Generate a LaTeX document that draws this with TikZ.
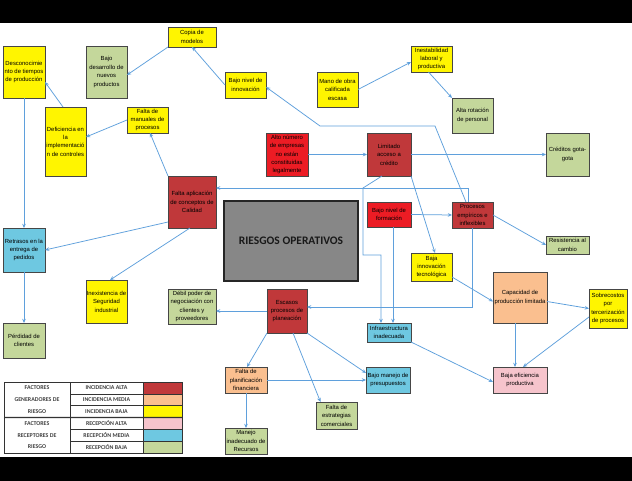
\documentclass[tikz,border=0pt]{standalone}
\usepackage{fontspec}
\setmainfont{Liberation Sans}
\newfontfamily\carl{Carlito}
\usetikzlibrary{arrows.meta}
\definecolor{cdred}{RGB}{192,56,58}
\definecolor{cbred}{RGB}{236,28,36}
\definecolor{cpeach}{RGB}{250,191,143}
\definecolor{cyel}{RGB}{255,245,0}
\definecolor{cpink}{RGB}{246,196,204}
\definecolor{cblue}{RGB}{110,200,225}
\definecolor{cgreen}{RGB}{196,215,155}
\definecolor{cgray}{RGB}{135,135,135}
\definecolor{carrow}{RGB}{95,160,220}
\definecolor{cbord}{RGB}{70,70,70}
\tikzset{
 bx/.style={draw=cbord, line width=0.7pt, inner sep=0.3pt, outer sep=0pt, align=center, font=\fontsize{5.9}{8.4}\selectfont, text=black},
 con/.style={draw=carrow, line width=0.75pt, -{Stealth[length=4.2pt,width=3.6pt]}},
 lg/.style={draw=black!80, line width=0.5pt, inner sep=0pt, outer sep=0pt, align=center, font=\carl\bfseries\fontsize{5.9}{11.8}\selectfont, text=black!75},
}
\begin{document}
\begin{tikzpicture}[x=1pt,y=-1pt]
\useasboundingbox (0,0) rectangle (632,481);
\fill[white] (0,0) rectangle (632,481);
\fill[black] (0,0) rectangle (632,23);
\fill[black] (0,457) rectangle (632,481);

% nodes
\node[bx,fill=cyel,minimum width=42pt,minimum height=52pt] (desc) at (24,72) {Desconocimie\\nto de tiempos\\de producción};
\node[bx,fill=cgreen,minimum width=41pt,minimum height=52pt] (bdes) at (106.5,72) {Bajo\\desarrollo de\\nuevos\\productos};
\node[bx,fill=cyel,minimum width=48pt,minimum height=20pt] (copia) at (192,37) {Copia de\\modelos};
\node[bx,fill=cyel,minimum width=41pt,minimum height=69pt] (defic) at (65.5,141.5) {Deficiencia en\\la\\implementació\\n de controles};
\node[bx,fill=cyel,minimum width=41pt,minimum height=26pt] (manual) at (147.5,120) {Falta de\\manuales de\\procesos};
\node[bx,fill=cyel,minimum width=41pt,minimum height=26pt] (binnov) at (245.5,85) {Bajo nivel de\\innovación};
\node[bx,fill=cyel,minimum width=41pt,minimum height=35pt] (mano) at (337.5,89.5) {Mano de obra\\calificada\\escasa};
\node[bx,fill=cyel,minimum width=41pt,minimum height=26pt] (inest) at (431.5,59) {Inestabilidad\\laboral y\\productiva};
\node[bx,fill=cgreen,minimum width=41pt,minimum height=35pt] (arot) at (472.5,115.5) {Alta rotación\\de personal};
\node[bx,fill=cgreen,minimum width=43pt,minimum height=43pt] (cred) at (567.5,154.5) {Créditos gota-\\gota};
\node[bx,fill=cbred,minimum width=42pt,minimum height=43pt] (alto) at (287,154.5) {Alto número\\de empresas\\no están\\constituidas\\legalmente};
\node[bx,fill=cdred,minimum width=44pt,minimum height=43pt] (limit) at (389,154.5) {Limitado\\acceso a\\crédito};
\node[bx,fill=cdred,minimum width=48pt,minimum height=52pt] (faltacal) at (192,202) {Falta aplicación\\de conceptos de\\Calidad};
\node[draw=black!85,line width=1.4pt,fill=cgray,minimum width=134pt,minimum height=80pt,inner sep=0pt,outer sep=0pt,text=black!90,font=\carl\bfseries\fontsize{11.5}{13}\selectfont] (riesgos) at (291,241) {RIESGOS OPERATIVOS};
\node[bx,fill=cbred,minimum width=44pt,minimum height=25pt] (bform) at (389,214.5) {Bajo nivel de\\formación};
\node[bx,fill=cdred,minimum width=41pt,minimum height=26pt] (proc) at (472.5,215) {Procesos\\empíricos e\\inflexibles};
\node[bx,fill=cgreen,minimum width=43pt,minimum height=18pt] (resis) at (567.5,245) {Resistencia al\\cambio};
\node[bx,fill=cblue,minimum width=42pt,minimum height=44pt] (retr) at (24,250) {Retrasos en la\\entrega de\\pedidos};
\node[bx,fill=cyel,minimum width=41pt,minimum height=28pt] (binnt) at (431.5,267) {Baja\\innovación\\tecnológica};
\node[bx,fill=cyel,minimum width=41pt,minimum height=43pt] (inex) at (106.5,301.5) {Inexistencia de\\Seguridad\\industrial};
\node[bx,fill=cgreen,minimum width=48pt,minimum height=35pt] (debil) at (192,306.5) {Débil poder de\\negociación con\\clientes y\\proveedores};
\node[bx,fill=cdred,minimum width=40pt,minimum height=44pt] (escasos) at (287,311) {Escasos\\procesos de\\planeación};
\node[bx,fill=cpeach,minimum width=54pt,minimum height=51pt] (capac) at (520,297.5) {Capacidad de\\producción limitada};
\node[bx,fill=cyel,minimum width=38pt,minimum height=39pt] (sobre) at (608,308.5) {Sobrecostos\\por\\tercerización\\de procesos};
\node[bx,fill=cblue,minimum width=44pt,minimum height=19pt] (infra) at (389,332.5) {Infraestructura\\inadecuada};
\node[bx,fill=cgreen,minimum width=42pt,minimum height=35pt] (perd) at (24,340.5) {Pérdidad de\\clientes};
\node[bx,fill=cpeach,minimum width=42pt,minimum height=26pt] (fplan) at (246,380) {Falta de\\planificación\\financiera};
\node[bx,fill=cblue,minimum width=44pt,minimum height=26pt] (bmanejo) at (388,380) {Bajo manejo de\\presupuestos};
\node[bx,fill=cgreen,minimum width=41pt,minimum height=27pt] (festr) at (336.5,415.5) {Falta de\\estrategias\\comerciales};
\node[bx,fill=cgreen,minimum width=42pt,minimum height=26pt] (maneji) at (246,441) {Manejo\\inadecuado de\\Recursos};
\node[bx,fill=cpink,minimum width=54pt,minimum height=26pt] (befic) at (520,380) {Baja eficiencia\\productiva};

% connectors
\coordinate (c1) at (435,126);
\coordinate (c2) at (320,126);
\coordinate (h1) at (363,188);
\coordinate (h2) at (363,255);
\draw[con] (copia.south west) -- ([yshift=-3pt]bdes.east);
\draw[con] (binnov.west) -- (copia.south);
\draw[con] ([xshift=-6.5pt]proc.north) -- (c1) -- (c2) -- ([yshift=-2pt]binnov.east);
\draw[con] (mano.east) -- ([yshift=-3pt]inest.west);
\draw[con] ([xshift=-3pt]inest.south) -- (arot.north west);
\draw[con] (alto.east) -- (limit.west);
\draw[con] (limit.east) -- (cred.west);
\draw[con] ([xshift=-7pt]limit.south) -- (h1) -- (h2) -| ([xshift=-8pt]infra.north);
\draw[con] (bform.east) -- (proc.west);
\draw[con] (limit.south east) -- ([xshift=3.5pt]binnt.north);
\draw[con] ([yshift=-10pt]binnt.east) -- ([yshift=-4pt]capac.west);
\draw[con] ([yshift=-4pt]capac.east) -- (sobre.west);
\draw[con] ([yshift=-8.5pt]sobre.west) -- ([xshift=3pt]befic.north);
\draw[con] ([xshift=-5pt]capac.south) -- ([xshift=-5pt]befic.north);
\draw[con] (infra.south east) -- ([yshift=-2pt]befic.west);
\draw[con] (proc.east) -- (resis.west);
\draw[con] (faltacal.north west) -- ([xshift=2.5pt]manual.south);
\draw[con] (manual.west) -- ([yshift=4.5pt]defic.east);
\draw[con] ([xshift=-2.5pt]defic.north) -- ([yshift=-10pt]desc.east);
\draw[con] (desc.south) -- (retr.north);
\draw[con] ([yshift=-20pt]faltacal.west) -- (retr.east);
\draw[con] ([xshift=-2pt]faltacal.south) -- ([xshift=3.5pt]inex.north);
\draw[con] (retr.south) -- (perd.north);
\draw[con] (escasos.west) -- (escasos.west -| debil.east);
\draw[con] (escasos.south west) -- ([xshift=1pt]fplan.north);
\draw[con] ([xshift=6pt]escasos.south) -- ([xshift=-16pt]festr.north);
\draw[con] (escasos.south east) -- ([yshift=7pt]bmanejo.west);
\draw[con] (fplan.east) -- (bmanejo.west);
\draw[con] (fplan.south) -- (maneji.north);
\draw[con] ([xshift=4pt]bform.south) -- ([xshift=4pt]infra.north);
\draw[con] ([xshift=-4pt]proc.north) |- ([yshift=14pt]faltacal.east);
\draw[con] (proc.south) |- ([yshift=4pt]escasos.east);

% legend
\node[lg,minimum width=66pt,minimum height=35.5pt] (lgen) at (37,399.75) {FACTORES\\GENERADORES DE\\RIESGO};
\node[lg,minimum width=66pt,minimum height=35.5pt] (lrec) at (37,435.25) {FACTORES\\RECEPTORES DE\\RIESGO};
\node[lg,minimum width=73pt,minimum height=11.83pt] (lt1) at (106.5,387.9) {INCIDENCIA ALTA};
\node[lg,minimum width=73pt,minimum height=11.83pt] (lt2) at (106.5,399.75) {INCIDENCIA MEDIA};
\node[lg,minimum width=73pt,minimum height=11.83pt] (lt3) at (106.5,411.6) {INCIDENCIA BAJA};
\node[lg,minimum width=73pt,minimum height=11.83pt] (lt4) at (106.5,423.4) {RECEPCIÓN ALTA};
\node[lg,minimum width=73pt,minimum height=11.83pt] (lt5) at (106.5,435.25) {RECEPCIÓN MEDIA};
\node[lg,minimum width=73pt,minimum height=11.83pt] (lt6) at (106.5,447.1) {RECEPCIÓN BAJA};
\node[lg,fill=cdred,minimum width=39pt,minimum height=11.83pt] (lc1) at (162.5,387.9) {};
\node[lg,fill=cpeach,minimum width=39pt,minimum height=11.83pt] (lc2) at (162.5,399.75) {};
\node[lg,fill=cyel,minimum width=39pt,minimum height=11.83pt] (lc3) at (162.5,411.6) {};
\node[lg,fill=cpink,minimum width=39pt,minimum height=11.83pt] (lc4) at (162.5,423.4) {};
\node[lg,fill=cblue,minimum width=39pt,minimum height=11.83pt] (lc5) at (162.5,435.25) {};
\node[lg,fill=cgreen,minimum width=39pt,minimum height=11.83pt] (lc6) at (162.5,447.1) {};
\draw[line width=1.1pt,black!80] (lgen.south west) -- (lc3.south east);
\end{tikzpicture}
\end{document}
